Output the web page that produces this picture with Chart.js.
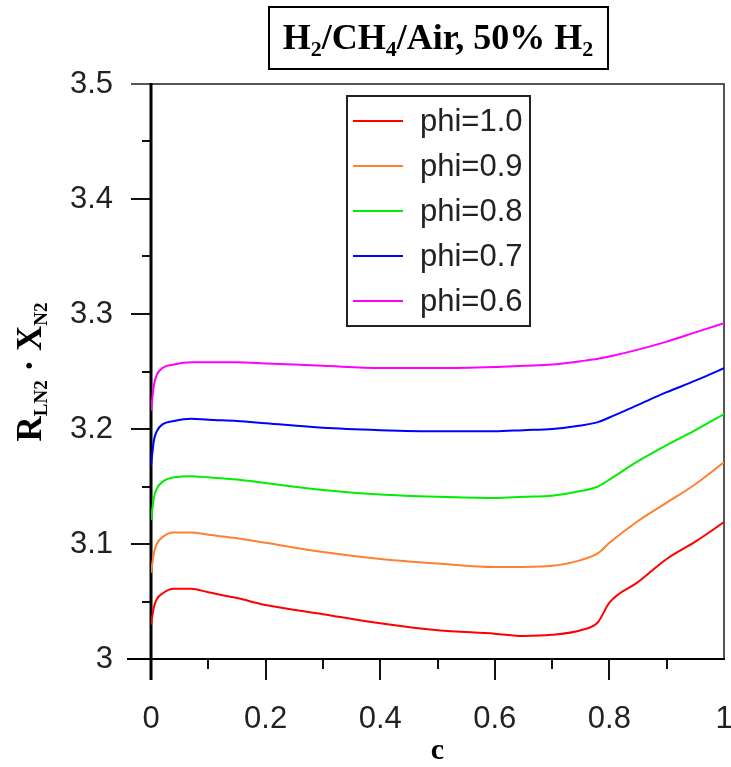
<!DOCTYPE html>
<html>
<head>
<meta charset="utf-8">
<script src="https://cdn.jsdelivr.net/npm/chart.js@4.4.0/dist/chart.umd.min.js"></script>
<style>
  html, body { margin: 0; padding: 0; background: #fff; }
  #wrap { width: 731px; height: 767px; }
</style>
</head>
<body>
<div id="wrap"><canvas id="chart" width="731" height="767"></canvas></div>
<script>
// progress variable c (x axis)
const cValues = [0, 0.005, 0.01, 0.02, 0.04, 0.07, 0.1, 0.15, 0.2, 0.3, 0.4, 0.5, 0.6, 0.65, 0.7, 0.75, 0.78, 0.8, 0.85, 0.9, 0.95, 1.0];
// R_LN2 * X_N2 for each equivalence ratio
const phi10 = [3.030, 3.045, 3.052, 3.057, 3.061, 3.061, 3.058, 3.053, 3.047, 3.039, 3.031, 3.025, 3.022, 3.020, 3.021, 3.025, 3.032, 3.049, 3.067, 3.087, 3.102, 3.119];
const phi09 = [3.075, 3.092, 3.100, 3.106, 3.110, 3.110, 3.108, 3.105, 3.101, 3.093, 3.087, 3.083, 3.080, 3.080, 3.081, 3.086, 3.092, 3.101, 3.120, 3.136, 3.152, 3.171];
const phi08 = [3.121, 3.140, 3.148, 3.154, 3.158, 3.159, 3.158, 3.156, 3.153, 3.147, 3.143, 3.141, 3.140, 3.141, 3.142, 3.146, 3.150, 3.156, 3.172, 3.186, 3.199, 3.213];
const phi07 = [3.168, 3.190, 3.198, 3.204, 3.207, 3.209, 3.208, 3.207, 3.205, 3.201, 3.199, 3.198, 3.198, 3.199, 3.200, 3.203, 3.206, 3.210, 3.221, 3.232, 3.242, 3.253];
const phi06 = [3.216, 3.238, 3.247, 3.253, 3.256, 3.258, 3.258, 3.258, 3.257, 3.255, 3.253, 3.253, 3.254, 3.255, 3.256, 3.259, 3.261, 3.263, 3.269, 3.276, 3.284, 3.292];

const seriesLabels = ['phi=1.0', 'phi=0.9', 'phi=0.8', 'phi=0.7', 'phi=0.6'];
const seriesValues = [phi10, phi09, phi08, phi07, phi06];
const seriesColors = ['#ff0000', '#ff8030', '#00ee00', '#0000ff', '#ff00ff'];

const SERIF = '"Liberation Serif", "Times New Roman", serif';
const SANS = '"Liberation Sans", Arial, sans-serif';

// draws a run of text pieces, some of them subscripts, starting at x
function drawPieces(ctx, pieces, x, y, big, small, drop) {
    pieces.forEach(p => {
        ctx.font = 'bold ' + (p.sub ? small : big) + 'px ' + SERIF;
        ctx.fillText(p.t, x, y + (p.sub ? drop : 0));
        x += ctx.measureText(p.t).width;
    });
}
function piecesWidth(ctx, pieces, big, small) {
    let w = 0;
    pieces.forEach(p => {
        ctx.font = 'bold ' + (p.sub ? small : big) + 'px ' + SERIF;
        w += ctx.measureText(p.t).width;
    });
    return w;
}

// axis frame and tick marks, under the curves
const framePlugin = {
    id: 'frame',
    beforeDatasetsDraw(chart) {
        const ctx = chart.ctx;
        const xs = chart.scales.x, ys = chart.scales.y;
        const L = xs.left, R = xs.right, T = ys.top, B = ys.bottom;
        ctx.save();
        ctx.lineCap = 'butt';
        // top and right border
        ctx.strokeStyle = '#555';
        ctx.lineWidth = 2;
        ctx.beginPath();
        ctx.moveTo(L - 20, T); ctx.lineTo(R + 1, T);
        ctx.moveTo(R, T); ctx.lineTo(R, B);
        ctx.stroke();
        // y ticks
        ctx.strokeStyle = '#111';
        ctx.beginPath();
        for (let i = 1; i < 10; i++) {
            const py = Math.round(ys.getPixelForValue(3 + i * 0.05));
            const len = i % 2 === 0 ? 20 : 9;
            ctx.moveTo(L - len, py); ctx.lineTo(L, py);
        }
        // x ticks
        for (let i = 1; i < 10; i++) {
            const px = Math.round(xs.getPixelForValue(i * 0.1));
            const len = i % 2 === 0 ? 21 : 10;
            ctx.moveTo(px, B); ctx.lineTo(px, B + len);
        }
        ctx.stroke();
        // bottom axis
        ctx.strokeStyle = '#000';
        ctx.beginPath();
        ctx.moveTo(L - 24, B); ctx.lineTo(R + 1, B);
        ctx.stroke();
        // left axis, thick
        ctx.lineWidth = 3;
        ctx.beginPath();
        ctx.moveTo(L, T - 1); ctx.lineTo(L, B + 21);
        ctx.stroke();
        ctx.restore();
    },
    afterDraw(chart) {
        const ctx = chart.ctx;
        const xs = chart.scales.x;
        ctx.save();
        ctx.fillStyle = '#000';
        ctx.textBaseline = 'alphabetic';
        ctx.textAlign = 'left';

        // title box
        const titlePieces = [
            { t: 'H' }, { t: '2', sub: true }, { t: '/CH' }, { t: '4', sub: true },
            { t: '/Air, 50% H' }, { t: '2', sub: true }
        ];
        ctx.fillStyle = '#fff';
        ctx.fillRect(269, 7, 339, 62);
        ctx.strokeStyle = '#000';
        ctx.lineWidth = 2;
        ctx.strokeRect(269, 7, 339, 62);
        ctx.fillStyle = '#000';
        const tw = piecesWidth(ctx, titlePieces, 36, 22);
        drawPieces(ctx, titlePieces, 438 - tw / 2, 49, 36, 22, 7);

        // y axis title, rotated
        const yPieces = [{ t: 'R' }, { t: 'LN2', sub: true }, { t: ' \u00b7 X' }, { t: 'N2', sub: true }];
        ctx.save();
        ctx.translate(41, 372);
        ctx.rotate(-Math.PI / 2);
        const yw = piecesWidth(ctx, yPieces, 35, 19);
        drawPieces(ctx, yPieces, -yw / 2, 0, 35, 19, 6);
        ctx.restore();

        // x axis title
        ctx.font = 'bold 30px ' + SERIF;
        ctx.textAlign = 'center';
        ctx.fillText('c', (xs.left + xs.right) / 2, 759);

        // legend box
        ctx.textAlign = 'left';
        ctx.fillStyle = '#fff';
        ctx.fillRect(347, 96, 183, 230);
        ctx.strokeStyle = '#222';
        ctx.lineWidth = 2;
        ctx.strokeRect(347, 96, 183, 230);
        ctx.font = '31px ' + SANS;
        ctx.textBaseline = 'middle';
        seriesLabels.forEach((lab, i) => {
            const ry = 121 + i * 45;
            ctx.strokeStyle = seriesColors[i];
            ctx.lineWidth = 2;
            ctx.beginPath();
            ctx.moveTo(353, ry); ctx.lineTo(403, ry);
            ctx.stroke();
            ctx.fillStyle = '#222';
            ctx.fillText(lab, 420, ry + 1);
        });
        ctx.restore();
    }
};

const datasets = seriesLabels.map((lab, i) => ({
    label: lab,
    data: cValues.map((c, j) => ({ x: c, y: seriesValues[i][j] })),
    borderColor: seriesColors[i],
    borderWidth: 2,
    pointRadius: 0,
    fill: false,
    cubicInterpolationMode: 'monotone'
}));

new Chart(document.getElementById('chart'), {
    type: 'line',
    data: { datasets },
    options: {
        responsive: false,
        animation: false,
        layout: { padding: { left: 11, right: 7, top: 84, bottom: 8 } },
        plugins: { legend: { display: false }, title: { display: false }, tooltip: { enabled: false } },
        scales: {
            x: {
                type: 'linear',
                min: 0, max: 1,
                grid: { display: false, drawTicks: false },
                border: { display: false },
                ticks: {
                    stepSize: 0.2,
                    padding: 42,
                    color: '#222',
                    font: { family: SANS, size: 31 },
                    callback: v => String(+v.toFixed(1))
                },
                afterFit: s => { s.height = 100; s.paddingLeft = 0; s.paddingRight = 0; }
            },
            y: {
                min: 3, max: 3.5,
                grid: { display: false, drawTicks: false },
                border: { display: false },
                ticks: {
                    stepSize: 0.1,
                    padding: 38,
                    color: '#222',
                    font: { family: SANS, size: 31 },
                    callback: v => String(+v.toFixed(1))
                },
                afterFit: s => { s.width = 140; s.paddingTop = 0; s.paddingBottom = 0; }
            }
        }
    },
    plugins: [framePlugin]
});
</script>
</body>
</html>
